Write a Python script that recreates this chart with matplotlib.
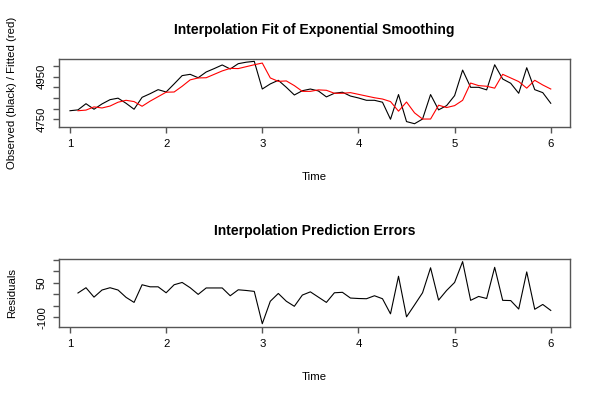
import numpy as np
import matplotlib
matplotlib.use('Agg')
import matplotlib.pyplot as plt

plt.rcParams['font.family'] = ['Liberation Sans', 'DejaVu Sans']

# monthly series, start 1, frequency 12
observed = [4790, 4794, 4823, 4797, 4822, 4842, 4849, 4825, 4797, 4853,
            4870, 4889, 4878, 4916, 4955, 4961, 4945, 4972, 4988, 5005,
            4986, 5011, 5018, 5022, 4892, 4916, 4933, 4900, 4864, 4884,
            4892, 4883, 4855, 4872, 4877, 4859, 4850, 4839, 4839, 4830,
            4750, 4866, 4739, 4729, 4751, 4866, 4794, 4814, 4861, 4981,
            4900, 4900, 4888, 5006, 4939, 4919, 4872, 4992, 4889, 4875,
            4825]
fitted = [4790, 4793, 4808, 4803, 4812, 4830, 4839, 4833, 4811, 4835,
          4856, 4877, 4878, 4905, 4935, 4944, 4945, 4961, 4977, 4989,
          4988, 4997, 5006, 5014, 4944, 4928, 4930, 4908, 4881, 4881,
          4888, 4886, 4872, 4872, 4875, 4867, 4859, 4851, 4845, 4833,
          4788, 4831, 4780, 4751, 4751, 4816, 4805, 4814, 4839, 4920,
          4908, 4905, 4896, 4961, 4944, 4927, 4896, 4933, 4911, 4892]
residuals = [6, 29, -12, 19, 29, 19, -13, -35, 42, 33,
             33, 7, 42, 52, 29, 0, 28, 28, 28, -6,
             20, 17, 13, -128, -30, 4, -30, -52, -3, 11,
             -12, -35, 7, 9, -16, -18, -19, -6, -19, -85,
             79, -98, -46, 7, 116, -25, 17, 52, 143, -26,
             -9, -18, 118, -26, -27, -64, 98, -65, -44, -70]

t_obs = 1 + np.arange(len(observed)) / 12
t_fit = 1 + np.arange(1, len(fitted) + 1) / 12

top_ticks = [4750, 4800, 4850, 4900, 4950, 5000]
top_labels = ['4750', '', '', '', '4950', '']
bot_ticks = [-100, -50, 0, 50, 100, 150]
bot_labels = ['-100', '', '', '50', '', '']
x_ticks = [1, 2, 3, 4, 5, 6]

fs = 8.2
fig = plt.figure(figsize=(6, 4), dpi=100)
ax1 = fig.add_axes([59/600, 1-126.7/400, 511/600, 67.7/400])
ax2 = fig.add_axes([59/600, 1-326.7/400, 511/600, 67.4/400])

ax1.plot(t_obs, observed, color='black', lw=0.8)
ax1.plot(t_fit, fitted, color='red', lw=0.8)
ax1.set_ylim(4715, 5033)
ax1.set_yticks(top_ticks)
ax1.set_yticklabels(top_labels)

ax2.plot(t_fit, residuals, color='black', lw=0.8)
ax2.set_ylim(-141, 153)
ax2.set_yticks(bot_ticks)
ax2.set_yticklabels(bot_labels)

for ax in (ax1, ax2):
    ax.set_xlim(0.886, 6.2)
    ax.set_xticks(x_ticks)
    ax.set_xticklabels([str(v) for v in x_ticks])
    for s in ax.spines.values():
        s.set_color('#555555')
        s.set_linewidth(1.0)
    ax.tick_params(direction='out', length=4.1, width=1.0, color='#555555',
                   labelsize=fs, pad=4.5)
    for lab in ax.get_yticklabels():
        lab.set_rotation(90)
        lab.set_va('center')

fig.text(314.5/600, 1-30/400, 'Interpolation Fit of Exponential Smoothing',
         ha='center', va='center', fontsize=10, fontweight='bold')
fig.text(314.5/600, 1-231/400, 'Interpolation Prediction Errors',
         ha='center', va='center', fontsize=10, fontweight='bold')
fig.text(314.5/600, 1-177/400, 'Time', ha='center', va='center', fontsize=fs)
fig.text(314.5/600, 1-377/400, 'Time', ha='center', va='center', fontsize=fs)
fig.text(12/600, 1-93/400, 'Observed (black) / Fitted (red)', rotation=90,
         ha='center', va='center', fontsize=fs)
fig.text(12/600, 1-293/400, 'Residuals', rotation=90,
         ha='center', va='center', fontsize=fs)

fig.savefig('out.png', dpi=100)
